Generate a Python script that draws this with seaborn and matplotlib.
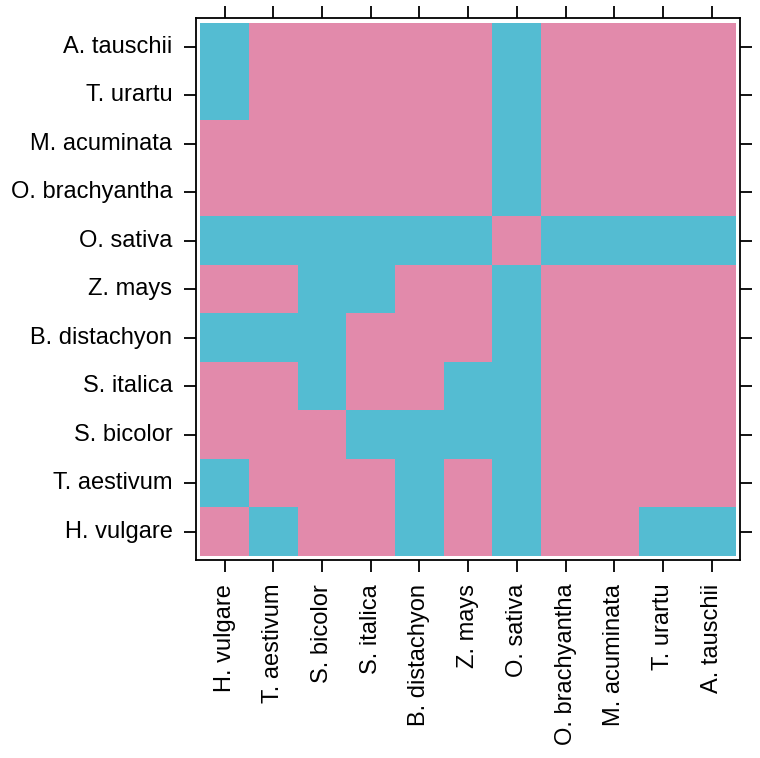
import numpy as np
import pandas as pd
import matplotlib
matplotlib.use("Agg")
import matplotlib.pyplot as plt
from matplotlib.colors import ListedColormap
import seaborn as sns

# species along the x axis (left to right); y axis uses the reverse order (top to bottom)
species = [
    "H. vulgare", "T. aestivum", "S. bicolor", "S. italica", "B. distachyon",
    "Z. mays", "O. sativa", "O. brachyantha", "M. acuminata", "T. urartu", "A. tauschii",
]

# 1 = blue cell, 0 = pink cell; rows follow the species order above
row_h_vulgare = [0, 1, 0, 0, 1, 0, 1, 0, 0, 1, 1]
row_t_aestivum = [1, 0, 0, 0, 1, 0, 1, 0, 0, 0, 0]
row_s_bicolor = [0, 0, 0, 1, 1, 1, 1, 0, 0, 0, 0]
row_s_italica = [0, 0, 1, 0, 0, 1, 1, 0, 0, 0, 0]
row_b_distachyon = [1, 1, 1, 0, 0, 0, 1, 0, 0, 0, 0]
row_z_mays = [0, 0, 1, 1, 0, 0, 1, 0, 0, 0, 0]
row_o_sativa = [1, 1, 1, 1, 1, 1, 0, 1, 1, 1, 1]
row_o_brachyantha = [0, 0, 0, 0, 0, 0, 1, 0, 0, 0, 0]
row_m_acuminata = [0, 0, 0, 0, 0, 0, 1, 0, 0, 0, 0]
row_t_urartu = [1, 0, 0, 0, 0, 0, 1, 0, 0, 0, 0]
row_a_tauschii = [1, 0, 0, 0, 0, 0, 1, 0, 0, 0, 0]

rows = [
    row_h_vulgare, row_t_aestivum, row_s_bicolor, row_s_italica, row_b_distachyon,
    row_z_mays, row_o_sativa, row_o_brachyantha, row_m_acuminata, row_t_urartu,
    row_a_tauschii,
]

df = pd.DataFrame(rows, index=species, columns=species)
df = df.iloc[::-1]  # top row is A. tauschii

plt.rcParams["font.family"] = ["Liberation Sans", "DejaVu Sans"]

fig = plt.figure(figsize=(7.6, 7.58), dpi=100)
ax = fig.add_axes([0.258, 0.261, 0.716, 0.715])

cmap = ListedColormap(["#E28AAB", "#54BCD2"])
sns.heatmap(df, cmap=cmap, vmin=0, vmax=1, cbar=False, ax=ax, square=False)

pad = 0.09
ax.set_xlim(-pad, len(species) + pad)
ax.set_ylim(len(species) + pad, -pad)

for side in ["left", "right", "top", "bottom"]:
    ax.spines[side].set_visible(True)
    ax.spines[side].set_color("black")
    ax.spines[side].set_linewidth(1.3)

ax.tick_params(axis="both", which="major", direction="out", length=8.5, width=1.3,
               color="black", labelsize=17, pad=8.5,
               top=True, right=True, labeltop=False, labelright=False)
ax.set_xticklabels(df.columns, rotation=90)
ax.set_yticklabels(df.index, rotation=0)
ax.set_xlabel("")
ax.set_ylabel("")

fig.savefig("out.png", dpi=100, facecolor="white")
